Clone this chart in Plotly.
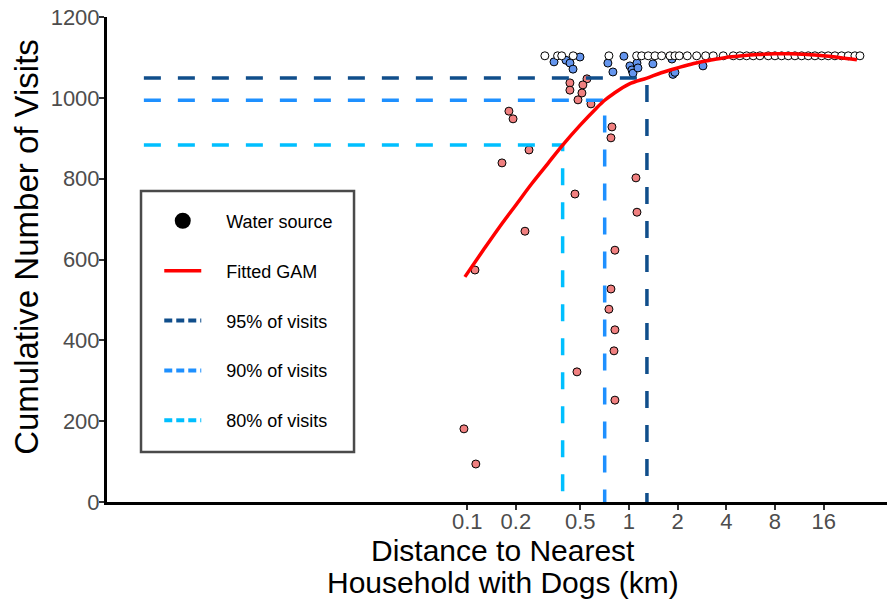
import plotly.graph_objects as go

# ---------------- data ----------------
# water sources below the 95% level (salmon)
salmon_x = [0.0954, 0.113, 0.1116, 0.181, 0.192, 0.241, 0.164, 0.4636, 1.105, 1.121,
            0.2275, 0.785, 0.774, 0.819, 0.774, 0.752, 0.819, 0.808, 0.477, 0.819,
            0.582, 0.484, 0.4315, 0.4315, 0.550, 0.519, 0.512]
salmon_y = [181, 94, 574, 967, 948, 871, 839, 762, 802, 717,
            670, 928, 901, 623, 527, 477, 426, 374, 322, 252,
            985, 995, 1037, 1019, 1047, 1032, 1012]

# water sources between 95% and the total (blue)
blue_x = [0.344, 0.408, 0.432, 0.498, 0.451, 0.741, 0.796, 0.931, 1.014, 1.044,
          1.059, 1.121, 1.137, 1.407, 1.845, 1.871, 1.925, 2.87]
blue_y = [1089, 1093, 1086, 1101, 1071, 1086, 1064, 1103, 1079, 1069,
          1061, 1086, 1074, 1084, 1096, 1058, 1063, 1079]

# water sources at the total number of visits (white)
white_x = [0.302, 0.362, 0.384, 0.452, 0.752, 1.116, 1.198, 1.316, 1.448, 1.593,
           1.793, 1.925, 2.047, 2.294, 2.623, 2.981, 3.321, 3.83, 4.416, 4.858,
           5.344, 5.871, 6.458, 7.271, 7.998, 8.797, 9.665, 10.63, 11.70, 12.85,
           14.13, 15.55, 17.08, 18.79, 20.67, 22.72, 24.98, 26.83]
white_y = [1104, 1104, 1104, 1104, 1104, 1104, 1104, 1104, 1104, 1104,
           1104, 1104, 1104, 1104, 1104, 1104, 1104, 1104, 1104, 1104,
           1104, 1104, 1104, 1104, 1104, 1104, 1104, 1104, 1104, 1104,
           1104, 1104, 1104, 1104, 1104, 1104, 1104, 1104]

# fitted GAM curve
gam_x = [0.0967, 0.126, 0.158, 0.200, 0.251, 0.316, 0.389, 0.501, 0.631, 0.708,
         0.794, 1.0, 1.292, 1.585, 1.995, 2.512, 3.162, 3.981, 5.012, 6.310,
         7.943, 10.0, 12.59, 15.85, 19.95, 25.7]
gam_y = [557, 624, 680, 735, 788, 838, 883, 933, 975, 994,
         1009, 1034, 1049, 1062, 1074, 1085, 1093, 1100, 1104, 1107,
         1109, 1109, 1107, 1104, 1100, 1094]

# thresholds
thr_labels = ["95% of visits", "90% of visits", "80% of visits"]
thr_dist = [1.292, 0.708, 0.389]
thr_visits = [1049, 994, 883]
thr_colors = ["#104E8B", "#1E90FF", "#00BFFF"]
line_start = 0.001

x_tick_vals = [0.1, 0.2, 0.5, 1, 2, 4, 8, 16]
x_tick_text = ["0.1", "0.2", "0.5", "1", "2", "4", "8", "16"]
y_tick_vals = [0, 200, 400, 600, 800, 1000, 1200]

FONT = "Arial, Liberation Sans, sans-serif"
PAD = "\u00a0\u00a0\u00a0\u00a0"  # gap between legend symbol and text

fig = go.Figure()

pt_style = dict(size=8, line=dict(color="black", width=1))
fig.add_trace(go.Scatter(x=salmon_x, y=salmon_y, mode="markers", showlegend=False,
                         marker=dict(color="#F08080", **pt_style), hoverinfo="skip"))
fig.add_trace(go.Scatter(x=blue_x, y=blue_y, mode="markers", showlegend=False,
                         marker=dict(color="#6495ED", **pt_style), hoverinfo="skip"))
fig.add_trace(go.Scatter(x=white_x, y=white_y, mode="markers", showlegend=False,
                         marker=dict(color="white", **pt_style), hoverinfo="skip"))

# threshold L-shaped dashed lines
for lab, d, v, c in zip(thr_labels, thr_dist, thr_visits, thr_colors):
    fig.add_trace(go.Scatter(x=[line_start, d, d], y=[v, v, 0], mode="lines",
                             showlegend=False, hoverinfo="skip",
                             line=dict(color=c, width=3.5, dash="17px,17px")))

# GAM curve
fig.add_trace(go.Scatter(x=gam_x, y=gam_y, mode="lines", name=PAD + "Fitted GAM",
                         line=dict(color="#FF0000", width=3.5, shape="spline"),
                         legendgroup="g2", legendrank=2))

# legend entries
fig.add_trace(go.Scatter(x=[None], y=[None], mode="markers", name=PAD + "Water source",
                         marker=dict(color="black", size=16),
                         legendgroup="g1", legendrank=1))
for i, (lab, c) in enumerate(zip(thr_labels, thr_colors)):
    fig.add_trace(go.Scatter(x=[None], y=[None], mode="lines", name=PAD + lab,
                             line=dict(color=c, width=4, dash="8px,4px"),
                             legendgroup="g%d" % (i + 3), legendrank=i + 3))

fig.update_layout(
    width=887, height=602,
    margin=dict(l=107, r=0, t=17, b=100, autoexpand=False),
    plot_bgcolor="white", paper_bgcolor="white",
    font=dict(family=FONT, color="black"),
    showlegend=True,
    legend=dict(x=0.067, y=0.6174, xanchor="left", yanchor="top",
                bgcolor="rgba(0,0,0,0)", borderwidth=0,
                font=dict(size=18, color="black"),
                tracegroupgap=23.5, itemwidth=37, traceorder="grouped"),
    shapes=[dict(type="rect", xref="paper", yref="paper",
                 x0=0.0436, x1=0.3167, y0=0.1031, y1=0.6412,
                 line=dict(color="#4A4A4A", width=2.5), fillcolor="white",
                 layer="below")],
    annotations=[
        dict(text="Cumulative Number of Visits", xref="paper", yref="paper",
             x=-0.1026, y=0.526, xanchor="center", yanchor="middle", textangle=-90,
             showarrow=False, font=dict(size=33, color="black", family=FONT)),
        dict(text="Distance to Nearest", xref="paper", yref="paper",
             x=0.5077, y=-0.1010, xanchor="center", yanchor="middle", showarrow=False,
             font=dict(size=30, color="black", family=FONT)),
        dict(text="Household with Dogs (km)", xref="paper", yref="paper",
             x=0.5077, y=-0.1655, xanchor="center", yanchor="middle", showarrow=False,
             font=dict(size=30, color="black", family=FONT)),
    ],
)

fig.update_xaxes(type="log", range=[-3.228, 1.596], automargin=False,
                 tickvals=x_tick_vals, ticktext=x_tick_text,
                 showgrid=False, zeroline=False,
                 showline=True, linecolor="black", linewidth=3,
                 ticks="outside", ticklen=5, tickwidth=1.5, tickcolor="#333333",
                 ticklabelstandoff=-7,
                 tickfont=dict(size=22, color="#4D4D4D", family=FONT))
fig.update_yaxes(range=[0, 1200], tickvals=y_tick_vals, automargin=False,
                 showgrid=False, zeroline=False,
                 showline=True, linecolor="black", linewidth=3,
                 ticks="outside", ticklen=5, tickwidth=1.5, tickcolor="#333333",
                 ticklabelstandoff=-5,
                 tickfont=dict(size=22, color="#4D4D4D", family=FONT))

fig.write_html("out.html", config={"displayModeBar": False},
               post_script="document.body.style.margin='0px';")
